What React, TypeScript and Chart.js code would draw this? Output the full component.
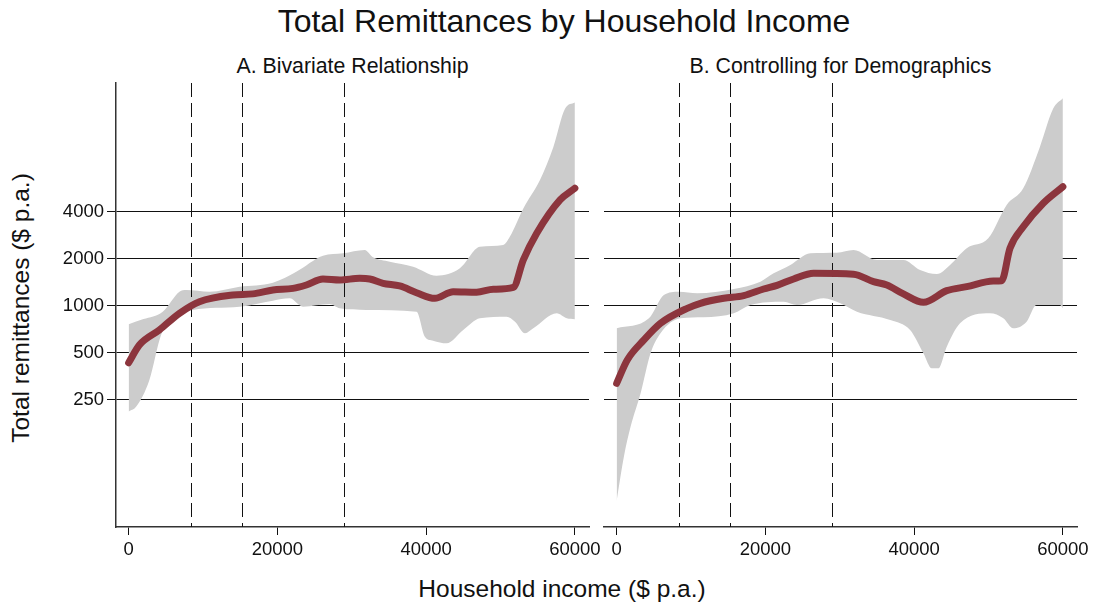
import React, { useEffect, useRef } from 'react';
import { Chart, registerables } from 'chart.js';

Chart.register(...registerables);

const FONT = '"Liberation Sans", Arial, Helvetica, sans-serif';

// Axis ticks
const X_TICKS = [0, 20000, 40000, 60000];
const Y_TICKS = [250, 500, 1000, 2000, 4000];
const INCOME_CUTOFFS = [8450, 15180, 28900];

// Panel A: bivariate relationship
const A_FIT_X = [0, 1440, 4130, 6830, 9520, 14000, 16700, 19400, 22090, 23890, 26130, 28380, 31070, 32420, 34210, 36460, 38710, 41170, 43640, 46790, 49030, 51720, 53070, 54870, 58010, 60000];
const A_FIT_Y = [431, 560, 699, 894, 1061, 1171, 1190, 1260, 1290, 1357, 1483, 1461, 1498, 1483, 1391, 1337, 1211, 1115, 1229, 1220, 1274, 1310, 1963, 2910, 4760, 5650];
const A_UP_X = [0, 2000, 4580, 6830, 7730, 10870, 14910, 19400, 22540, 26130, 28820, 31740, 32860, 35110, 38250, 41400, 44540, 47230, 50370, 51270, 53070, 55310, 57110, 58690, 60000];
const A_UP_Y = [760, 820, 915, 1229, 1260, 1229, 1323, 1404, 1650, 2090, 2166, 2275, 2040, 1914, 1777, 1557, 1736, 2387, 2447, 2770, 4200, 6390, 10400, 18300, 20000];
const A_LO_X = [0, 1000, 2790, 4360, 5930, 8620, 14910, 19400, 21640, 23440, 27030, 28380, 31970, 38710, 39830, 40940, 42750, 44990, 47230, 50820, 51950, 53300, 54410, 57560, 58910, 60000];
const A_LO_Y = [210, 225, 334, 649, 830, 939, 985, 1077, 1115, 985, 1025, 962, 939, 915, 633, 597, 574, 699, 830, 850, 790, 666, 716, 894, 830, 818];

// Panel B: controlling for demographics
const B_FIT_X = [0, 1430, 3670, 5900, 9490, 11275, 14400, 17090, 19770, 21570, 23800, 26480, 31850, 34540, 36330, 38560, 41250, 44390, 47070, 50640, 51770, 52890, 54670, 57360, 60000];
const B_FIT_Y = [318, 449, 603, 771, 962, 1036, 1115, 1159, 1279, 1350, 1483, 1612, 1589, 1425, 1357, 1189, 1051, 1248, 1323, 1439, 1446, 2333, 3200, 4530, 5780];
const B_UP_X = [0, 4340, 6350, 8360, 10830, 15750, 19330, 21110, 23360, 26040, 29620, 31850, 34990, 38560, 40800, 43050, 44830, 47070, 49970, 52440, 54670, 56910, 58700, 60000];
const B_UP_Y = [716, 830, 1171, 1229, 1200, 1279, 1425, 1612, 1824, 2166, 2185, 2275, 1963, 1963, 1693, 1596, 1824, 2333, 2700, 4420, 5650, 10400, 18300, 21300];
const B_LO_X = [0, 980, 1880, 3220, 4560, 5900, 8590, 11720, 15750, 17990, 22460, 24250, 27830, 30070, 32310, 36780, 39460, 41250, 42370, 43270, 44390, 46170, 50200, 51990, 53330, 55120, 56460, 59600, 60000];
const B_LO_Y = [56, 108, 168, 275, 496, 666, 830, 843, 894, 1010, 1061, 1010, 1115, 1036, 915, 810, 699, 496, 397, 397, 546, 771, 894, 830, 716, 790, 1010, 1010, 962];

const pts = (xs: number[], ys: number[]) => xs.map((x, i) => ({ x, y: ys[i] }));

const cutoffPlugin = {
  id: 'cutoffs',
  beforeDatasetDraw(chart: any, args: any) {
    if (args.index !== 0) return;
    const { ctx, chartArea, scales } = chart;
    ctx.save();
    ctx.beginPath();
    ctx.rect(chartArea.left, chartArea.top, chartArea.width, chartArea.height);
    ctx.clip();
    ctx.strokeStyle = '#111';
    ctx.lineWidth = 1;
    ctx.setLineDash([14, 6]);
    for (const v of INCOME_CUTOFFS) {
      const x = Math.round(scales.x.getPixelForValue(v)) + 0.5;
      ctx.beginPath();
      ctx.moveTo(x, chartArea.top);
      ctx.lineTo(x, chartArea.bottom);
      ctx.stroke();
    }
    ctx.restore();
  },
};

function makeConfig(first: boolean, fx: number[], fy: number[], ux: number[], uy: number[], lx: number[], ly: number[]): any {
  return {
    type: 'line',
    data: {
      datasets: [
        {
          label: 'fit',
          data: pts(fx, fy),
          borderColor: '#8C353D',
          borderWidth: 7,
          borderCapStyle: 'round',
          borderJoinStyle: 'round',
          pointRadius: 0,
          fill: false,
          cubicInterpolationMode: 'monotone',
        },
        {
          label: 'upper',
          data: pts(ux, uy),
          borderColor: 'rgba(0,0,0,0)',
          borderWidth: 0,
          backgroundColor: '#CCCCCC',
          pointRadius: 0,
          fill: '+1',
          cubicInterpolationMode: 'monotone',
        },
        {
          label: 'lower',
          data: pts(lx, ly),
          borderColor: 'rgba(0,0,0,0)',
          borderWidth: 0,
          pointRadius: 0,
          fill: false,
          cubicInterpolationMode: 'monotone',
        },
      ],
    },
    options: {
      responsive: false,
      animation: false,
      events: [],
      layout: { padding: { top: 8, right: first ? 11 : 17, bottom: 0, left: 0 } },
      plugins: { legend: { display: false }, tooltip: { enabled: false }, title: { display: false } },
      scales: {
        x: {
          type: 'linear',
          position: 'bottom',
          min: -1700,
          max: 61900,
          afterBuildTicks: (s: any) => {
            s.ticks = X_TICKS.map((v) => ({ value: v }));
          },
          afterFit: (s: any) => {
            s.height = 43;
            s.paddingLeft = 0;
            s.paddingRight = 0;
          },
          grid: { drawOnChartArea: false, drawTicks: true, tickLength: 8, color: '#111', lineWidth: 1 },
          border: { display: true, color: '#333', width: 1.5 },
          ticks: {
            font: { family: FONT, size: 18.5 },
            color: '#111',
            padding: 4,
            maxRotation: 0,
            autoSkip: false,
            callback: (v: any) => String(v),
          },
        },
        y: {
          type: 'logarithmic',
          position: 'left',
          min: 38.2,
          max: 26700,
          afterBuildTicks: (s: any) => {
            s.ticks = Y_TICKS.map((v) => ({ value: v }));
          },
          afterFit: (s: any) => {
            s.width = first ? 76 : 14;
            s.paddingTop = 0;
            s.paddingBottom = 0;
          },
          grid: { color: '#111', lineWidth: 1, drawTicks: first, tickLength: 9 },
          border: { display: first, color: '#333', width: 1.5 },
          ticks: {
            display: first,
            font: { family: FONT, size: 18.5 },
            color: '#111',
            padding: 3,
            autoSkip: false,
            callback: (v: any) => String(v),
          },
        },
      },
    },
    plugins: [cutoffPlugin],
  };
}

function Panel(props: { first: boolean; left: number; width: number; cfg: () => any }) {
  const ref = useRef<HTMLCanvasElement | null>(null);
  useEffect(() => {
    if (!ref.current) return;
    const chart = new Chart(ref.current, props.cfg());
    return () => chart.destroy();
  }, []);
  return (
    <canvas
      ref={ref}
      width={props.width}
      height={495}
      style={{ position: 'absolute', left: props.left, top: 75, width: props.width, height: 495 }}
    />
  );
}

const textBase: React.CSSProperties = {
  position: 'absolute',
  whiteSpace: 'nowrap',
  lineHeight: 1,
  color: '#111',
  fontFamily: FONT,
};

export default function App() {
  return (
    <div style={{ position: 'absolute', left: 0, top: 0, width: 1094, height: 605, background: '#fff', fontFamily: FONT, overflow: 'hidden' }}>
      <div style={{ ...textBase, left: 564, top: 5, fontSize: 32, transform: 'translateX(-50%)' }}>
        Total Remittances by Household Income
      </div>
      <div style={{ ...textBase, left: 352.5, top: 56, fontSize: 21.3, transform: 'translateX(-50%)' }}>
        A. Bivariate Relationship
      </div>
      <div style={{ ...textBase, left: 840.5, top: 56, fontSize: 21.3, transform: 'translateX(-50%)' }}>
        B. Controlling for Demographics
      </div>
      <Panel first={true} left={40} width={560} cfg={() => makeConfig(true, A_FIT_X, A_FIT_Y, A_UP_X, A_UP_Y, A_LO_X, A_LO_Y)} />
      <Panel first={false} left={590} width={504} cfg={() => makeConfig(false, B_FIT_X, B_FIT_Y, B_UP_X, B_UP_Y, B_LO_X, B_LO_Y)} />
      <div style={{ ...textBase, left: 562, top: 577, fontSize: 24.5, transform: 'translateX(-50%)' }}>
        Household income ($ p.a.)
      </div>
      <div style={{ ...textBase, left: 21, top: 308, fontSize: 24.5, transform: 'translate(-50%, -50%) rotate(-90deg)' }}>
        Total remittances ($ p.a.)
      </div>
    </div>
  );
}
